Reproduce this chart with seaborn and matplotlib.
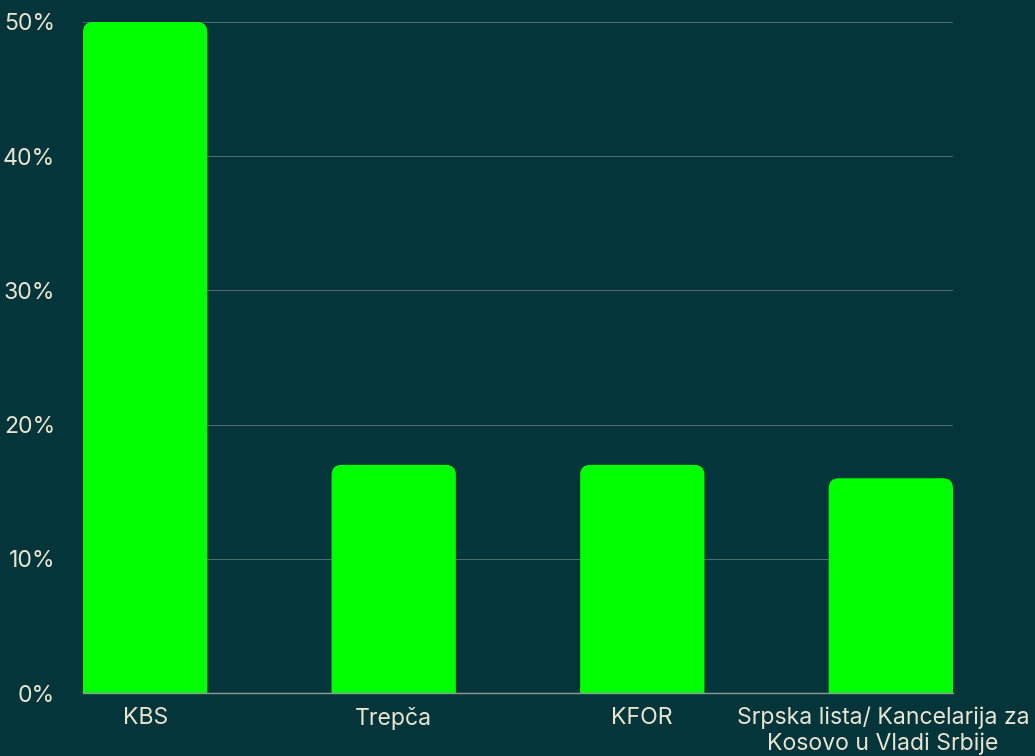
import matplotlib
matplotlib.use("Agg")
import matplotlib.pyplot as plt
import matplotlib.transforms as mtransforms
import seaborn as sns
import pandas as pd
from matplotlib.patches import FancyBboxPatch
from matplotlib.ticker import FuncFormatter

categories = ["KBS", "Trepča", "KFOR", "Srpska lista/ Kancelarija za\nKosovo u Vladi Srbije"]
values = [50, 17, 17, 16]

bg = "#03353a"
green = "#00ff00"
text_color = "#e9e5d3"

sns.set_theme(style="white")
plt.rcParams["font.family"] = ["Inter", "DejaVu Sans"]

df = pd.DataFrame({"cat": categories, "val": values})

fig = plt.figure(figsize=(10.35, 7.56), dpi=100, facecolor=bg)
ax = fig.add_axes([83 / 1035, 1 - 693 / 756, 870 / 1035, 671 / 756])
ax.set_facecolor(bg)

sns.barplot(data=df, x="cat", y="val", color=green, width=0.5, saturation=1, ax=ax, zorder=3)

ax.set_xlim(-0.25, 3.25)
ax.set_ylim(0, 50)

# swap plain bars for bars with rounded top corners
px_x = 3.5 / 870
px_y = 50 / 671
radius = 10 * px_x
for p in list(ax.patches):
    x0, w, h = p.get_x(), p.get_width(), p.get_height()
    p.set_visible(False)
    extra = 12 * px_y
    rb = FancyBboxPatch((x0, -extra), w, h + extra,
                        boxstyle="round,pad=0,rounding_size=%f" % radius,
                        mutation_aspect=px_y / px_x,
                        facecolor=green, edgecolor="none", zorder=3,
                        clip_on=True)
    ax.add_patch(rb)
    rb.set_clip_box(ax.bbox)

ax.set_yticks([0, 10, 20, 30, 40, 50])
ax.yaxis.set_major_formatter(FuncFormatter(lambda v, pos: "%d%%" % v))
ax.grid(axis="y", color="#4d6b6b", linewidth=0.8, zorder=0)
ax.grid(axis="x", visible=False)

for s in ["top", "right", "left"]:
    ax.spines[s].set_visible(False)
ax.spines["bottom"].set_color("#8c9c98")
ax.spines["bottom"].set_linewidth(1.0)
ax.spines["bottom"].set_zorder(4)

ax.tick_params(axis="both", length=0, colors=text_color, labelsize=16.6)
ax.tick_params(axis="y", pad=20)
ax.tick_params(axis="x", pad=10)
for lab in ax.get_xticklabels():
    lab.set_linespacing(1.2)
# last label sits a little left so it fits the figure
last = ax.get_xticklabels()[-1]
last.set_transform(last.get_transform() + mtransforms.ScaledTranslation(-8 / 100, 0, fig.dpi_scale_trans))
ax.set_xlabel("")
ax.set_ylabel("")

fig.savefig("out.png", dpi=100, facecolor=bg)
